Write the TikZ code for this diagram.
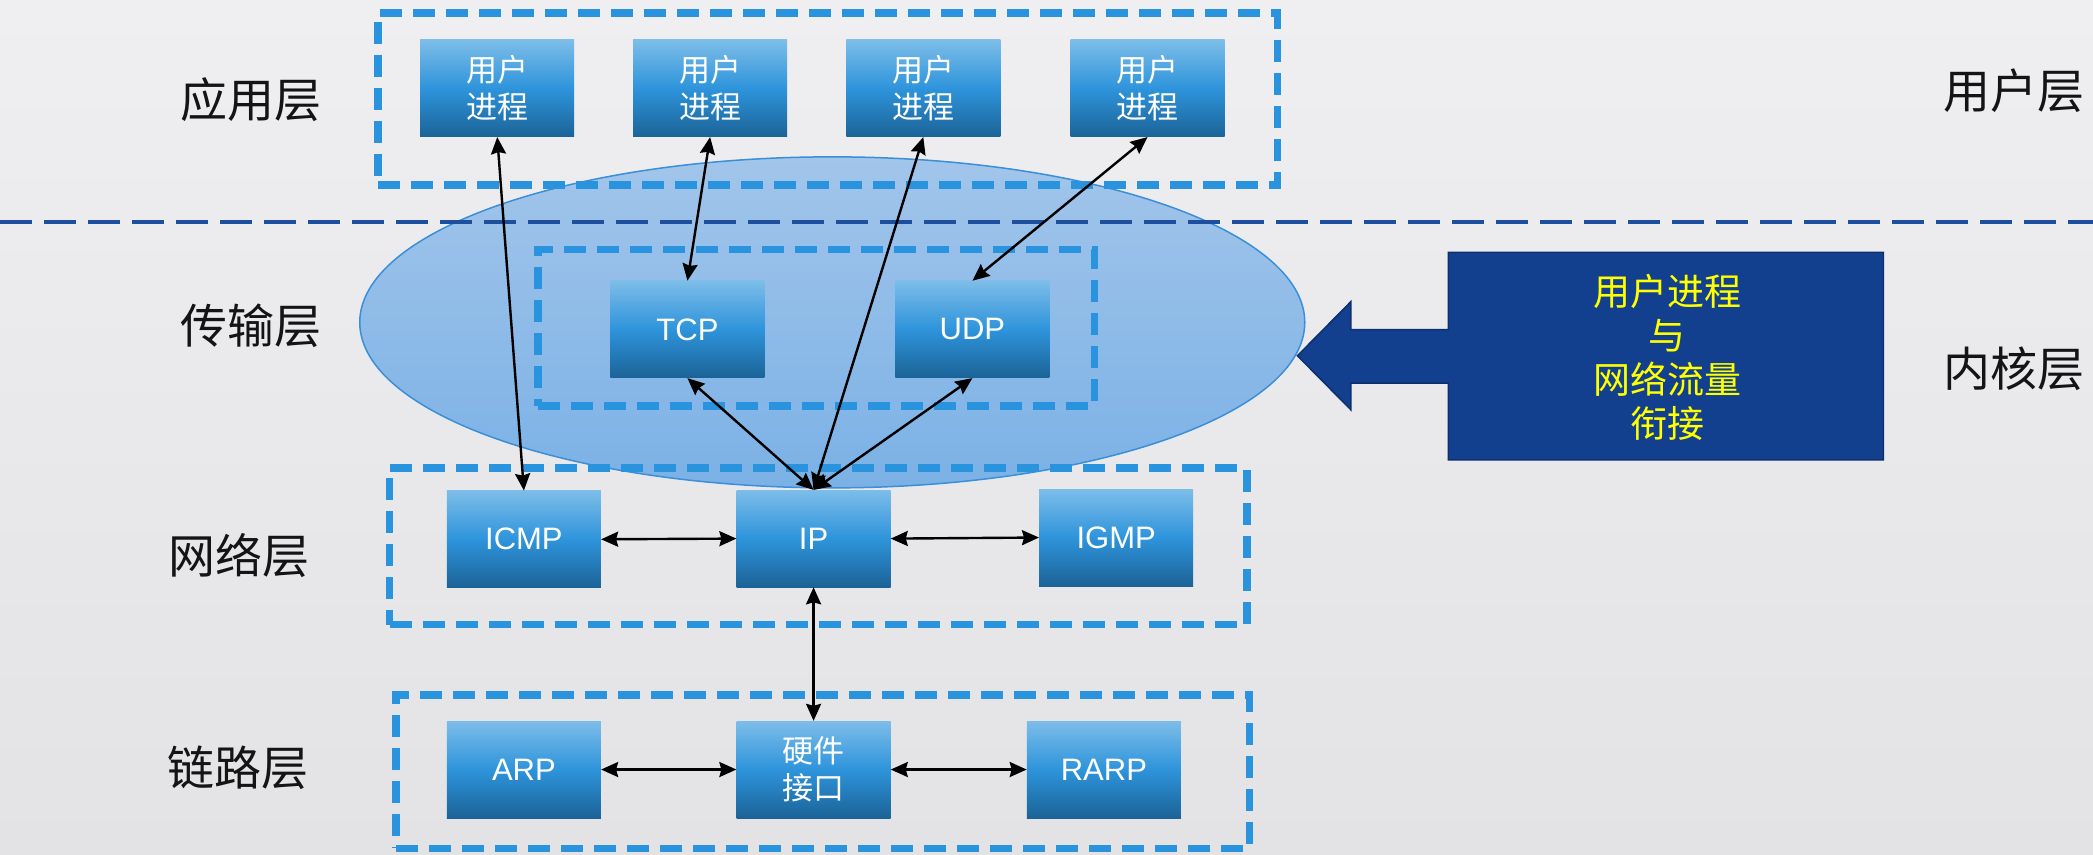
\documentclass[tikz,border=0pt]{standalone}
\usepackage{fontspec}
\setmainfont{Noto Sans CJK SC}
\newfontfamily\latinsans{Liberation Sans}
\usetikzlibrary{arrows.meta,shapes.geometric}
\definecolor{bgtop}{HTML}{EFEEF1}
\definecolor{bgbot}{HTML}{E3E3E5}
\definecolor{dashblue}{HTML}{2A93DD}
\definecolor{sepblue}{HTML}{1E4F9E}
\definecolor{boxtop}{HTML}{7DBDE9}
\definecolor{boxmid}{HTML}{2E94DB}
\definecolor{boxbot}{HTML}{1B6397}
\definecolor{elltop}{HTML}{A2C5EA}
\definecolor{ellbot}{HTML}{7BB1E6}
\definecolor{elledge}{HTML}{3A8FD9}
\definecolor{kbfill}{HTML}{12408F}
\definecolor{kbedge}{HTML}{0D2F6E}
\definecolor{kbtext}{HTML}{FFFF00}
\begin{document}
\begin{tikzpicture}[x=1.3348pt,y=-1.3348pt,
  procbox/.style={rectangle, minimum width=154pt, minimum height=97pt, inner sep=0pt,
    top color=boxtop, bottom color=boxbot, middle color=boxmid, text=white,
    align=center, font=\fontsize{31pt}{37pt}\selectfont},
  latinbox/.style={procbox, font=\latinsans\fontsize{31pt}{37pt}\selectfont},
  groupbox/.style={rectangle, draw=dashblue, line width=7.5pt, dash pattern=on 22pt off 11pt, inner sep=0pt},
  layerlabel/.style={font=\fontsize{47pt}{52pt}\selectfont, text=black!92},
  conn/.style={black, line width=2.4pt, {Stealth[length=17pt,width=15pt,inset=2pt]}-{Stealth[length=17pt,width=15pt,inset=2pt]}}
]
% background
\shade[top color=bgtop, bottom color=bgbot] (0,0) rectangle (1568,640);
\useasboundingbox (0,0) rectangle (1568,640);

% kernel ellipse
\node[ellipse, minimum width=945pt, minimum height=331pt, inner sep=0pt,
  top color=elltop, bottom color=ellbot, draw=elledge, line width=1.5pt] (kernelzone) at (623.5,241.5) {};

% separator
\coordinate (sepL) at (0,166);
\coordinate (sepR) at (1568,166);
\draw[sepblue, line width=4pt, dash pattern=on 32pt off 12pt] (sepL) -- (sepR);

% group boxes
\node[groupbox, minimum width=899.6pt, minimum height=172pt] (appgrp) at (620,74.2) {};
\node[groupbox, minimum width=556.6pt, minimum height=156.2pt] (trgrp) at (611.5,245.5) {};
\node[groupbox, minimum width=857pt, minimum height=156.7pt] (netgrp) at (613,409.3) {};
\node[groupbox, minimum width=853.6pt, minimum height=153.5pt] (lnkgrp) at (616.3,578) {};

% application layer
\node[procbox] (u1) at (372.5,66.2) {用户\\进程};
\node[procbox] (u2) at (532,66.2) {用户\\进程};
\node[procbox] (u3) at (691.7,66.2) {用户\\进程};
\node[procbox] (u4) at (859.7,66.2) {用户\\进程};

% transport
\node[latinbox] (tcp) at (515,246.8) {TCP};
\node[latinbox] (udp) at (728.5,246.8) {UDP};

% network
\node[latinbox] (icmp) at (392.5,404) {ICMP};
\node[latinbox] (ip) at (609.5,403.5) {IP};
\node[latinbox] (igmp) at (836.2,402.7) {IGMP};

% link
\node[latinbox] (arp) at (392.5,576.5) {ARP};
\node[procbox] (hw) at (609.5,576.5) {硬件\\接口};
\node[latinbox] (rarp) at (827,576.5) {RARP};

% connectors
\draw[conn] (u1.south) -- (icmp.north);
\draw[conn] (u2.south) -- (tcp.north);
\draw[conn] (u3.south) -- (ip.north);
\draw[conn] (u4.south) -- (udp.north);
\draw[conn] (tcp.south) -- (ip.north);
\draw[conn] (udp.south) -- (ip.north);
\draw[conn] (icmp.east) -- (ip.west);
\draw[conn] (ip.east) -- (igmp.west);
\draw[conn] (ip.south) -- (hw.north);
\draw[conn] (arp.east) -- (hw.west);
\draw[conn] (hw.east) -- (rarp.west);

% big left arrow
\filldraw[fill=kbfill, draw=kbedge, line width=1.5pt, line join=miter]
  (972,266.5) -- (1012,226) -- (1012,247) -- (1085,247) -- (1085,189) -- (1411,189)
  -- (1411,344.5) -- (1085,344.5) -- (1085,287) -- (1012,287) -- (1012,307) -- cycle;
\node[text=kbtext, align=center, font=\fontsize{37pt}{44pt}\selectfont] (kbnote) at (1249,267.5)
  {用户进程\\与\\网络流量\\衔接};

% layer labels
\node[layerlabel] (lapp) at (188,75) {应用层};
\node[layerlabel] (ltr) at (188,244) {传输层};
\node[layerlabel] (lnet) at (179,416) {网络层};
\node[layerlabel] (llnk) at (178,575) {链路层};
\node[layerlabel] (luser) at (1509,68) {用户层};
\node[layerlabel] (lkern) at (1509,276) {内核层};
\end{tikzpicture}
\end{document}
